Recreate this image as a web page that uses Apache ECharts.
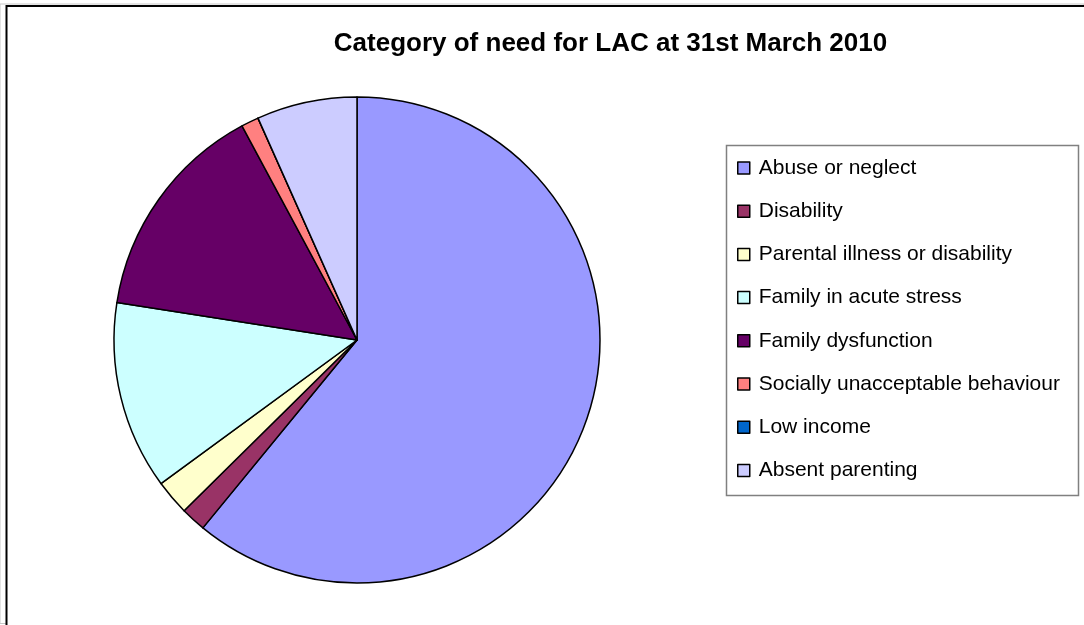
<!DOCTYPE html>
<html>
<head>
<meta charset="utf-8">
<script src="https://cdn.jsdelivr.net/npm/echarts@6/dist/echarts.min.js"></script>
<style>html,body{margin:0;padding:0;background:#fff;}#c{width:1084px;height:625px;}</style>
</head>
<body>
<div id="c"></div>
<script>
const titleText = 'Category of need for LAC at 31st March 2010';
const categories = ['Abuse or neglect','Disability','Parental illness or disability','Family in acute stress','Family dysfunction','Socially unacceptable behaviour','Low income','Absent parenting'];
const values = [365, 10, 14, 75, 88, 7, 0, 40];
const colors = ['#9999FF','#993366','#FFFFCC','#CCFFFF','#660066','#FF8080','#0066CC','#CCCCFF'];

const chart = echarts.init(document.getElementById('c'), null, {renderer:'canvas'});
chart.setOption({
  animation: false,
  backgroundColor: '#fff',
  title: {
    text: titleText,
    left: 605.5, top: 26, textAlign: 'center',
    textStyle: {fontFamily: 'Liberation Sans, Arial, sans-serif', fontWeight: 'bold', fontSize: 26, color: '#000'}
  },
  graphic: [
    {type:'rect', shape:{x:0, y:4, width:1084, height:619.5}, style:{fill:'none', stroke:'#c8c8c8', lineWidth:1}, z:-2},
    {type:'rect', shape:{x:6.5, y:6, width:1100, height:640}, style:{fill:'#fff', stroke:'#000', lineWidth:2}, z:-1},
    {type:'rect', shape:{x:726.5, y:145.5, width:352, height:350}, style:{fill:'#fff', stroke:'#808080', lineWidth:1.5}, z:-1}
  ],
  legend: {
    orient: 'vertical',
    left: 737, top: 157.5,
    padding: 0,
    icon: 'rect',
    itemWidth: 12, itemHeight: 12,
    itemGap: 22.2,
    itemStyle: {borderColor:'#000', borderWidth:1.5},
    textStyle: {fontFamily: 'Liberation Sans, Arial, sans-serif', fontSize: 21, color:'#000', padding:[0,0,0,4]},
    data: categories
  },
  series: [{
    type: 'pie',
    center: [357, 340],
    radius: 243,
    startAngle: 90,
    clockwise: true,
    label: {show:false},
    labelLine: {show:false},
    emphasis: {disabled:true},
    itemStyle: {borderColor:'#000', borderWidth:1.5},
    data: categories.map((n,i)=>({name:n, value:values[i], itemStyle:{color:colors[i]}}))
  }]
});
</script>
</body>
</html>
